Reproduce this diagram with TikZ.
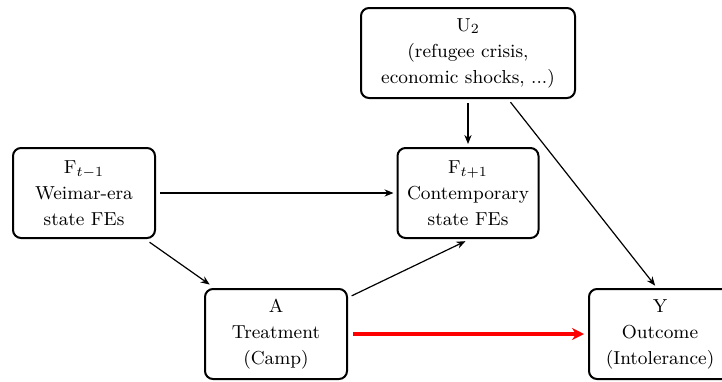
\documentclass[tikz,border=0pt]{standalone}
\usetikzlibrary{arrows.meta,calc}
\begin{document}
\begin{tikzpicture}[x=0.5pt,y=-0.5pt,
  box/.style={draw,line width=1pt,rounded corners=4pt,align=center,
    minimum width=71pt,minimum height=45pt,inner sep=2pt,
    font=\fontsize{9.4}{13}\selectfont},
  arr/.style={line width=0.6pt,-{Stealth[length=4.5pt,width=3.6pt]},shorten >=1.5pt,shorten <=2pt},
  redarr/.style={draw=red,line width=1.6pt,-{Stealth[length=6pt,width=6pt]},shorten >=2pt,shorten <=2.5pt}]
\useasboundingbox (0,0) rectangle (722,381);
\node[box] (F1) at (84,193) {F$_{t-1}$\\Weimar-era\\state FEs};
\node[box,minimum width=107pt] (U) at (468,53) {U$_2$\\(refugee crisis,\\economic shocks, ...)};
\node[box,minimum width=70.5pt] (F2) at (468,193) {F$_{t+1}$\\Contemporary\\state FEs};
\node[box] (A) at (276,334) {A\\Treatment\\(Camp)};
\node[box] (Y) at (660,334) {Y\\Outcome\\(Intolerance)};
\draw[arr] (F1) -- (F2);
\draw[arr,shorten <=2.8pt,shorten >=3pt] ([xshift=-5.5pt]F1.south east) -- ([xshift=5.3pt]A.north west);
\draw[arr,shorten >=2.5pt] ([yshift=-4.8pt]A.north east) -- ([xshift=1pt]F2.south);
\draw[arr] (U.south) -- (F2.north);
\draw[arr] ([xshift=20pt]U.south) -- ([xshift=-1.5pt]Y.north);
\draw[redarr] (A) -- (Y);
\end{tikzpicture}
\end{document}
